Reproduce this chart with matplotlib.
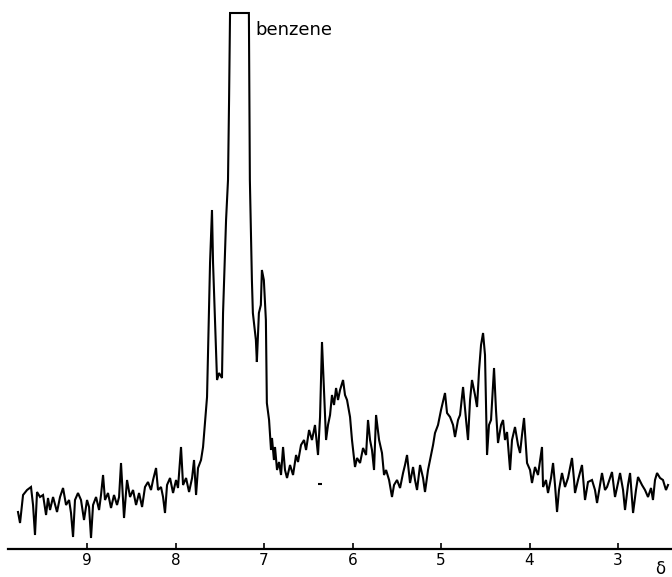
import numpy as np
import matplotlib.pyplot as plt

# 1H NMR trace (shift in ppm, intensity in arb. units)
ppm = [9.780, 9.757, 9.723, 9.678, 9.633, 9.610, 9.588, 9.565, 9.531, 9.497,
       9.463, 9.441, 9.418, 9.384, 9.339, 9.305, 9.271, 9.237, 9.203, 9.181,
       9.158, 9.136, 9.102, 9.068, 9.034, 9.000, 8.977, 8.955, 8.932, 8.898,
       8.864, 8.842, 8.819, 8.797, 8.763, 8.729, 8.695, 8.661, 8.638, 8.616,
       8.582, 8.548, 8.514, 8.480, 8.446, 8.412, 8.378, 8.345, 8.311, 8.277,
       8.254, 8.220, 8.198, 8.164, 8.141, 8.119, 8.096, 8.062, 8.028, 7.994,
       7.972, 7.938, 7.915, 7.881, 7.847, 7.813, 7.791, 7.768, 7.746, 7.712,
       7.689, 7.667, 7.644, 7.633, 7.610, 7.588, 7.576, 7.554, 7.531, 7.508,
       7.475, 7.463, 7.429, 7.407, 7.395, 7.384,
       7.171, 7.160, 7.137, 7.126, 7.092, 7.081, 7.058, 7.036, 7.024, 7.002,
       6.979, 6.968, 6.943, 6.921, 6.910, 6.888, 6.876, 6.853, 6.830, 6.808,
       6.785, 6.763, 6.740, 6.706, 6.672, 6.638, 6.616, 6.582, 6.548, 6.525,
       6.491, 6.458, 6.424, 6.390, 6.367, 6.345, 6.322, 6.299, 6.277, 6.254,
       6.232, 6.209, 6.186, 6.164, 6.141, 6.107, 6.085, 6.062, 6.028, 6.006,
       5.972, 5.949, 5.915, 5.881, 5.847, 5.825, 5.802, 5.780, 5.757, 5.734,
       5.700, 5.667, 5.644, 5.621, 5.587, 5.554, 5.531, 5.497, 5.463, 5.429,
       5.407, 5.384, 5.350, 5.316, 5.294, 5.271, 5.237, 5.203, 5.181, 5.147,
       5.124, 5.090, 5.068, 5.034, 5.000, 4.955, 4.932, 4.898, 4.864, 4.842,
       4.808, 4.785, 4.751, 4.717, 4.695, 4.672, 4.650, 4.616, 4.593, 4.570,
       4.548, 4.525, 4.503, 4.480, 4.458, 4.435, 4.401, 4.379, 4.356, 4.322,
       4.299, 4.277, 4.254, 4.220, 4.198, 4.164, 4.130, 4.107, 4.085, 4.062,
       4.028, 3.994, 3.972, 3.938, 3.904, 3.859, 3.847, 3.814, 3.791, 3.757,
       3.734, 3.712, 3.689, 3.667, 3.633, 3.599, 3.565, 3.520, 3.497, 3.486,
       3.452, 3.407, 3.373, 3.339, 3.294, 3.260, 3.237, 3.203, 3.181, 3.147,
       3.124, 3.090, 3.068, 3.034, 3.000, 2.977, 2.943, 2.921, 2.887, 2.864,
       2.830, 2.797, 2.774, 2.729, 2.695, 2.661, 2.627, 2.605, 2.582, 2.559,
       2.525, 2.492, 2.458, 2.435]

intensity = [37, 26, 54, 59, 62, 44, 14, 57, 52, 54,
             34, 51, 39, 52, 37, 52, 61, 44, 49, 36,
             12, 49, 56, 49, 29, 49, 42, 11, 44, 52,
             39, 54, 74, 49, 56, 41, 54, 44, 52, 86,
             31, 69, 52, 59, 44, 56, 42, 62, 67, 59,
             69, 81, 59, 62, 52, 36, 64, 71, 56, 69,
             61, 102, 64, 71, 57, 71, 89, 54, 81, 89,
             102, 127, 152, 196, 286, 339, 286, 229, 169, 176,
             171, 236, 329, 369, 449, 536,
             536, 369, 269, 236, 209, 187, 236, 244, 279, 269,
             229, 146, 129, 99, 111, 89, 102, 79, 87, 74,
             102, 79, 71, 84, 74, 94, 87, 104, 109, 99,
             119, 109, 124, 94, 132, 207, 159, 109, 124, 134,
             154, 144, 161, 149, 159, 169, 154, 149, 132, 109,
             82, 91, 86, 101, 94, 129, 109, 99, 79, 134,
             109, 96, 74, 79, 69, 52, 64, 69, 61, 76,
             84, 94, 66, 82, 69, 59, 84, 71, 57, 79,
             89, 104, 116, 124, 139, 156, 136, 132, 124, 112,
             129, 134, 162, 129, 109, 149, 169, 154, 142, 179,
             204, 216, 194, 94, 124, 129, 181, 139, 106, 124,
             129, 109, 117, 79, 109, 122, 104, 96, 114, 131,
             86, 79, 66, 82, 74, 102, 62, 69, 56, 71,
             86, 64, 37, 59, 76, 62, 71, 91, 69, 56,
             69, 84, 49, 67, 69, 59, 46, 64, 76, 59,
             62, 71, 77, 52, 66, 76, 59, 39, 64, 76,
             36, 59, 72, 64, 59, 52, 61, 49, 69, 76,
             71, 69, 59, 64]

ticks = [9, 8, 7, 6, 5, 4, 3]
artifact_ppm = [6.367]
artifact_int = [65]

fig = plt.figure(figsize=(6.72, 5.77), dpi=100)
ax = fig.add_axes([8 / 672, 28 / 577, 664 / 672, 549 / 577])

ax.plot(ppm, intensity, color='black', lw=1.5, solid_joinstyle='miter')
ax.plot(artifact_ppm, artifact_int, color='black', marker='_', ms=3, mew=1.5, ls='none')

ax.set_xlim(9.893, 2.39)
ax.set_ylim(0, 549)

for s in ['top', 'left', 'right']:
    ax.spines[s].set_visible(False)
ax.spines['bottom'].set_linewidth(1.6)
ax.set_yticks([])
ax.set_xticks(ticks)
ax.set_xticklabels([str(t) for t in ticks], fontsize=11)
ax.tick_params(axis='x', direction='in', length=4, width=1.2, pad=3)

ax.text(7.10, 519, 'benzene', fontsize=13, ha='left', va='center')
ax.text(2.52, -20, 'δ', fontsize=12, ha='center', va='center')

fig.savefig('out.png', dpi=100)
